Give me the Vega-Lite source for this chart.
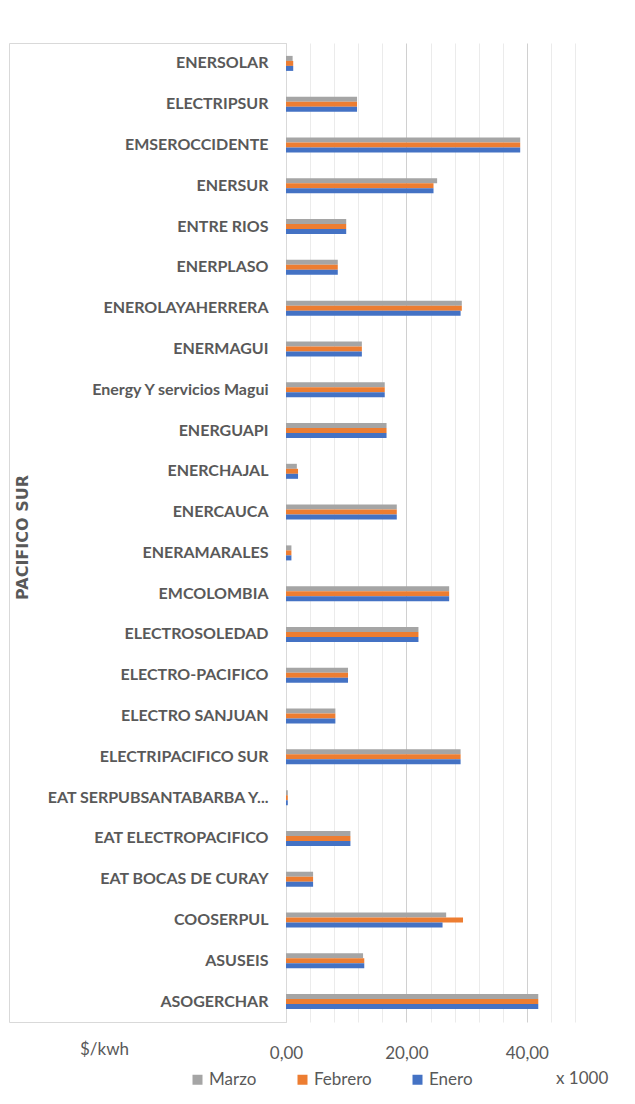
{
  "$schema": "https://vega.github.io/schema/vega-lite/v6.json",
  "autosize": {"type": "none"},
  "width": 289,
  "height": 979,
  "padding": {"left": 286, "top": 43, "right": 60, "bottom": 82},
  "background": "white",
  "config": {
    "view": {"stroke": null},
    "font": "Lato"
  },
  "data": {"values": [
    {"empresa": "ENERSOLAR", "mes": "Marzo", "valor": 1.1},
    {"empresa": "ENERSOLAR", "mes": "Febrero", "valor": 1.2},
    {"empresa": "ENERSOLAR", "mes": "Enero", "valor": 1.2},
    {"empresa": "ELECTRIPSUR", "mes": "Marzo", "valor": 11.8},
    {"empresa": "ELECTRIPSUR", "mes": "Febrero", "valor": 11.8},
    {"empresa": "ELECTRIPSUR", "mes": "Enero", "valor": 11.8},
    {"empresa": "EMSEROCCIDENTE", "mes": "Marzo", "valor": 38.9},
    {"empresa": "EMSEROCCIDENTE", "mes": "Febrero", "valor": 38.9},
    {"empresa": "EMSEROCCIDENTE", "mes": "Enero", "valor": 38.9},
    {"empresa": "ENERSUR", "mes": "Marzo", "valor": 25.1},
    {"empresa": "ENERSUR", "mes": "Febrero", "valor": 24.5},
    {"empresa": "ENERSUR", "mes": "Enero", "valor": 24.5},
    {"empresa": "ENTRE RIOS", "mes": "Marzo", "valor": 10.0},
    {"empresa": "ENTRE RIOS", "mes": "Febrero", "valor": 10.0},
    {"empresa": "ENTRE RIOS", "mes": "Enero", "valor": 10.0},
    {"empresa": "ENERPLASO", "mes": "Marzo", "valor": 8.6},
    {"empresa": "ENERPLASO", "mes": "Febrero", "valor": 8.6},
    {"empresa": "ENERPLASO", "mes": "Enero", "valor": 8.6},
    {"empresa": "ENEROLAYAHERRERA", "mes": "Marzo", "valor": 29.2},
    {"empresa": "ENEROLAYAHERRERA", "mes": "Febrero", "valor": 29.2},
    {"empresa": "ENEROLAYAHERRERA", "mes": "Enero", "valor": 29.0},
    {"empresa": "ENERMAGUI", "mes": "Marzo", "valor": 12.6},
    {"empresa": "ENERMAGUI", "mes": "Febrero", "valor": 12.6},
    {"empresa": "ENERMAGUI", "mes": "Enero", "valor": 12.6},
    {"empresa": "Energy Y servicios Magui", "mes": "Marzo", "valor": 16.4},
    {"empresa": "Energy Y servicios Magui", "mes": "Febrero", "valor": 16.4},
    {"empresa": "Energy Y servicios Magui", "mes": "Enero", "valor": 16.4},
    {"empresa": "ENERGUAPI", "mes": "Marzo", "valor": 16.7},
    {"empresa": "ENERGUAPI", "mes": "Febrero", "valor": 16.7},
    {"empresa": "ENERGUAPI", "mes": "Enero", "valor": 16.7},
    {"empresa": "ENERCHAJAL", "mes": "Marzo", "valor": 1.8},
    {"empresa": "ENERCHAJAL", "mes": "Febrero", "valor": 2.0},
    {"empresa": "ENERCHAJAL", "mes": "Enero", "valor": 2.0},
    {"empresa": "ENERCAUCA", "mes": "Marzo", "valor": 18.4},
    {"empresa": "ENERCAUCA", "mes": "Febrero", "valor": 18.4},
    {"empresa": "ENERCAUCA", "mes": "Enero", "valor": 18.4},
    {"empresa": "ENERAMARALES", "mes": "Marzo", "valor": 0.9},
    {"empresa": "ENERAMARALES", "mes": "Febrero", "valor": 0.9},
    {"empresa": "ENERAMARALES", "mes": "Enero", "valor": 0.9},
    {"empresa": "EMCOLOMBIA", "mes": "Marzo", "valor": 27.1},
    {"empresa": "EMCOLOMBIA", "mes": "Febrero", "valor": 27.1},
    {"empresa": "EMCOLOMBIA", "mes": "Enero", "valor": 27.1},
    {"empresa": "ELECTROSOLEDAD", "mes": "Marzo", "valor": 22.0},
    {"empresa": "ELECTROSOLEDAD", "mes": "Febrero", "valor": 22.0},
    {"empresa": "ELECTROSOLEDAD", "mes": "Enero", "valor": 22.0},
    {"empresa": "ELECTRO-PACIFICO", "mes": "Marzo", "valor": 10.3},
    {"empresa": "ELECTRO-PACIFICO", "mes": "Febrero", "valor": 10.3},
    {"empresa": "ELECTRO-PACIFICO", "mes": "Enero", "valor": 10.3},
    {"empresa": "ELECTRO SANJUAN", "mes": "Marzo", "valor": 8.2},
    {"empresa": "ELECTRO SANJUAN", "mes": "Febrero", "valor": 8.2},
    {"empresa": "ELECTRO SANJUAN", "mes": "Enero", "valor": 8.2},
    {"empresa": "ELECTRIPACIFICO SUR", "mes": "Marzo", "valor": 29.0},
    {"empresa": "ELECTRIPACIFICO SUR", "mes": "Febrero", "valor": 29.0},
    {"empresa": "ELECTRIPACIFICO SUR", "mes": "Enero", "valor": 29.0},
    {"empresa": "EAT SERPUBSANTABARBA Y...", "mes": "Marzo", "valor": 0.3},
    {"empresa": "EAT SERPUBSANTABARBA Y...", "mes": "Febrero", "valor": 0.3},
    {"empresa": "EAT SERPUBSANTABARBA Y...", "mes": "Enero", "valor": 0.3},
    {"empresa": "EAT ELECTROPACIFICO", "mes": "Marzo", "valor": 10.7},
    {"empresa": "EAT ELECTROPACIFICO", "mes": "Febrero", "valor": 10.7},
    {"empresa": "EAT ELECTROPACIFICO", "mes": "Enero", "valor": 10.7},
    {"empresa": "EAT BOCAS DE CURAY", "mes": "Marzo", "valor": 4.5},
    {"empresa": "EAT BOCAS DE CURAY", "mes": "Febrero", "valor": 4.5},
    {"empresa": "EAT BOCAS DE CURAY", "mes": "Enero", "valor": 4.5},
    {"empresa": "COOSERPUL", "mes": "Marzo", "valor": 26.6},
    {"empresa": "COOSERPUL", "mes": "Febrero", "valor": 29.4},
    {"empresa": "COOSERPUL", "mes": "Enero", "valor": 26.0},
    {"empresa": "ASUSEIS", "mes": "Marzo", "valor": 12.8},
    {"empresa": "ASUSEIS", "mes": "Febrero", "valor": 13.0},
    {"empresa": "ASUSEIS", "mes": "Enero", "valor": 13.0},
    {"empresa": "ASOGERCHAR", "mes": "Marzo", "valor": 41.9},
    {"empresa": "ASOGERCHAR", "mes": "Febrero", "valor": 41.9},
    {"empresa": "ASOGERCHAR", "mes": "Enero", "valor": 41.9}
  ]},
  "resolve": {"axis": {"y": "independent"}},
  "layer": [
    {
      "mark": {"type": "bar"},
      "encoding": {
        "y": {
          "field": "empresa", "type": "nominal", "sort": null,
          "scale": {"paddingInner": 0.632, "paddingOuter": 0.316},
          "axis": {
            "orient": "left",
            "title": "PACIFICO SUR",
            "titleFont": "DejaVu Sans", "titleFontSize": 16, "titleFontWeight": "bold", "titleColor": "#595959",
            "titleX": -264, "titleY": 494, "titleAngle": -90, "titleAlign": "center", "titleBaseline": "middle",
            "labelFont": "Lato",
            "labelFontSize": 16, "labelFontWeight": "bold", "labelColor": "#595959",
            "labelPadding": 18, "labelLimit": 300,
            "ticks": false, "domain": true, "domainColor": "#d9d9d9", "grid": false
          }
        },
        "yOffset": {"field": "mes", "type": "nominal", "sort": ["Marzo", "Febrero", "Enero"], "scale": {"paddingInner": 0, "paddingOuter": 0}},
        "x": {
          "field": "valor", "type": "quantitative",
          "scale": {"domain": [0, 48], "nice": false, "zero": true},
          "axis": {
            "values": [0, 4, 8, 12, 16, 20, 24, 28, 32, 36, 40, 44, 48],
            "labelExpr": "datum.value % 20 === 0 ? replace(format(datum.value, '.2f'), '.', ',') : ''",
            "grid": true,
            "gridColor": {"condition": {"test": "datum.value % 20 === 0", "value": "#d0d0d0"}, "value": "#ebebeb"},
            "gridWidth": 1,
            "ticks": false, "domain": false,
            "labelFont": "Lato", "labelFontSize": 17, "labelColor": "#595959", "labelPadding": 23, "labelFlush": false,
            "title": "$/kwh", "titleFont": "Lato", "titleX": -182, "titleY": 27, "titleAngle": 0, "titleAlign": "center", "titleBaseline": "middle",
            "titleFontSize": 17, "titleFontWeight": "normal", "titleColor": "#595959"
          }
        },
        "color": {
          "field": "mes", "type": "nominal",
          "scale": {"domain": ["Marzo", "Febrero", "Enero"], "range": ["#a5a5a5", "#ed7d31", "#4472c4"]},
          "legend": {
            "orient": "none", "legendX": -97, "legendY": 1028, "direction": "horizontal",
            "title": "x 1000", "titleOrient": "right", "titlePadding": 83,
            "titleFont": "Lato", "titleFontSize": 17, "titleFontWeight": "normal", "titleColor": "#595959", "titleBaseline": "middle",
            "symbolType": "square", "symbolSize": 100, "symbolStrokeWidth": 0,
            "labelFont": "Lato", "labelFontSize": 17, "labelColor": "#595959", "labelOffset": 3, "columnPadding": 37
          }
        }
      }
    },
    {
      "mark": {"type": "bar", "opacity": 0},
      "encoding": {
        "y": {
          "field": "empresa", "type": "nominal", "sort": null,
          "axis": {
            "orient": "left", "offset": 277, "title": null, "labels": false,
            "domain": true, "domainColor": "#d9d9d9", "grid": false,
            "ticks": true, "bandPosition": 0, "tickOffset": -12.9, "tickSize": -277, "tickColor": "#d9d9d9",
            "tickOpacity": {"condition": {"test": "datum.value === 'ENERSOLAR'", "value": 1}, "value": 0}
          }
        }
      }
    },
    {
      "mark": {"type": "bar", "opacity": 0},
      "encoding": {
        "y": {
          "field": "empresa", "type": "nominal", "sort": null,
          "axis": {
            "orient": "left", "offset": 0, "title": null, "labels": false,
            "domain": false, "grid": false,
            "ticks": true, "bandPosition": 1, "tickOffset": 12.9, "tickSize": 277, "tickColor": "#d9d9d9",
            "tickOpacity": {"condition": {"test": "datum.value === 'ASOGERCHAR'", "value": 1}, "value": 0}
          }
        }
      }
    }
  ]
}
